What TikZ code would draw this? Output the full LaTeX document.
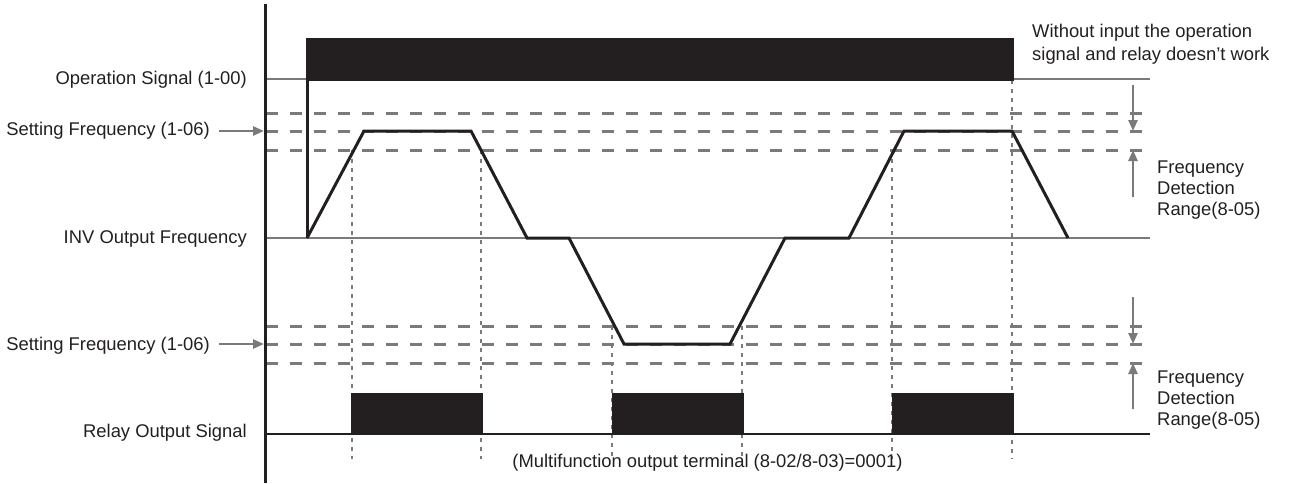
\documentclass[tikz,border=0pt]{standalone}
\usepackage{fontspec}
\setmainfont{Liberation Sans}
\usetikzlibrary{arrows.meta}
\definecolor{blk}{HTML}{231F20}
\definecolor{gry}{HTML}{7A7A7A}
\begin{document}
\begin{tikzpicture}[x=1pt,y=-1pt,
  lbl/.style={font=\fontsize{18.4}{22}\selectfont, text=blk, inner sep=0pt},
  axisline/.style={draw=blk, line width=3pt},
  baseln/.style={draw=gry, line width=2.5pt},
  dashln/.style={draw=gry, line width=3pt, dash pattern=on 12pt off 12pt},
  dotln/.style={draw=gry, line width=2.5pt, dash pattern=on 4pt off 5pt},
  sigln/.style={draw=blk, line width=3pt, line join=miter},
  barfill/.style={fill=blk, draw=blk, line width=0.5pt},
  garrow/.style={draw=gry, line width=2.5pt, -{Triangle[length=11pt,width=9pt]}},
]
\useasboundingbox (0,0) rectangle (1292,483);

% dashed detection levels
\foreach \yy in {113,131,150,326,344,363}
  \draw[dashln] (266,\yy) -- (1142,\yy);

% dotted vertical guides
\draw[dotln] (352,150) -- (352,459);
\draw[dotln] (481,150) -- (481,459);
\draw[dotln] (612,326) -- (612,459);
\draw[dotln] (742,326) -- (742,459);
\draw[dotln] (892,150) -- (892,459);
\draw[dotln] (1012,80) -- (1012,459);

% baselines
\draw[baseln] (266,79) -- (306,79);
\draw[baseln] (1013,79) -- (1150,79);
\draw[baseln] (266,238) -- (1150,238);

% operation signal bar
\fill[barfill] (306,38) rectangle (1013,80);
\draw[sigln] (307,80) -- (307,238);

% INV output frequency
\draw[sigln] (307,238) -- (364,131) -- (471,131) -- (527,238) -- (569,238)
  -- (624,344) -- (730,344) -- (785,238) -- (849,238) -- (904,131)
  -- (1012,131) -- (1068,238);

% relay output signal
\draw[sigln, line width=2.5pt] (266,434) -- (1150,434);
\fill[barfill] (351,393) rectangle (482,434);
\fill[barfill] (612,393) rectangle (743,434);
\fill[barfill] (892,393) rectangle (1013,434);

% vertical axis
\draw[axisline] (265,4) -- (265,483);

% left labels
\node[lbl, anchor=base east] (op) at (247,84) {Operation Signal (1-00)};
\node[lbl, anchor=base east] (sf1) at (210,135) {Setting Frequency (1-06)};
\node[lbl, anchor=base east] (inv) at (247,243) {INV Output Frequency};
\node[lbl, anchor=base east] (sf2) at (210,350) {Setting Frequency (1-06)};
\node[lbl, anchor=base east] (rly) at (247,437) {Relay Output Signal};

\coordinate (a1s) at (219,131); \coordinate (a1e) at (264,131);
\coordinate (a2s) at (219,344); \coordinate (a2e) at (264,344);
\draw[garrow] (a1s) -- (a1e);
\draw[garrow] (a2s) -- (a2e);

% right labels
\node[lbl, anchor=base west] (w1) at (1032,37) {Without input the operation};
\node[lbl, anchor=base west] (w2) at (1032,60) {signal and relay doesn’t work};

\node[lbl, anchor=base west] (f1a) at (1157,173) {Frequency};
\node[lbl, anchor=base west] (f1b) at (1157,194) {Detection};
\node[lbl, anchor=base west] (f1c) at (1157,215) {Range(8-05)};
\node[lbl, anchor=base west] (f2a) at (1157,383) {Frequency};
\node[lbl, anchor=base west] (f2b) at (1157,404) {Detection};
\node[lbl, anchor=base west] (f2c) at (1157,425) {Range(8-05)};

\coordinate (r1s) at (1133,85);  \coordinate (r1e) at (1133,131);
\coordinate (r2s) at (1133,197); \coordinate (r2e) at (1133,150);
\coordinate (r3s) at (1133,297); \coordinate (r3e) at (1133,344);
\coordinate (r4s) at (1133,409); \coordinate (r4e) at (1133,363);
\draw[garrow] (r1s) -- (r1e);
\draw[garrow] (r2s) -- (r2e);
\draw[garrow] (r3s) -- (r3e);
\draw[garrow] (r4s) -- (r4e);

% bottom note
\node[lbl, anchor=base] (note) at (707.5,467) {(Multifunction output terminal (8-02/8-03)=0001)};
\end{tikzpicture}
\end{document}
